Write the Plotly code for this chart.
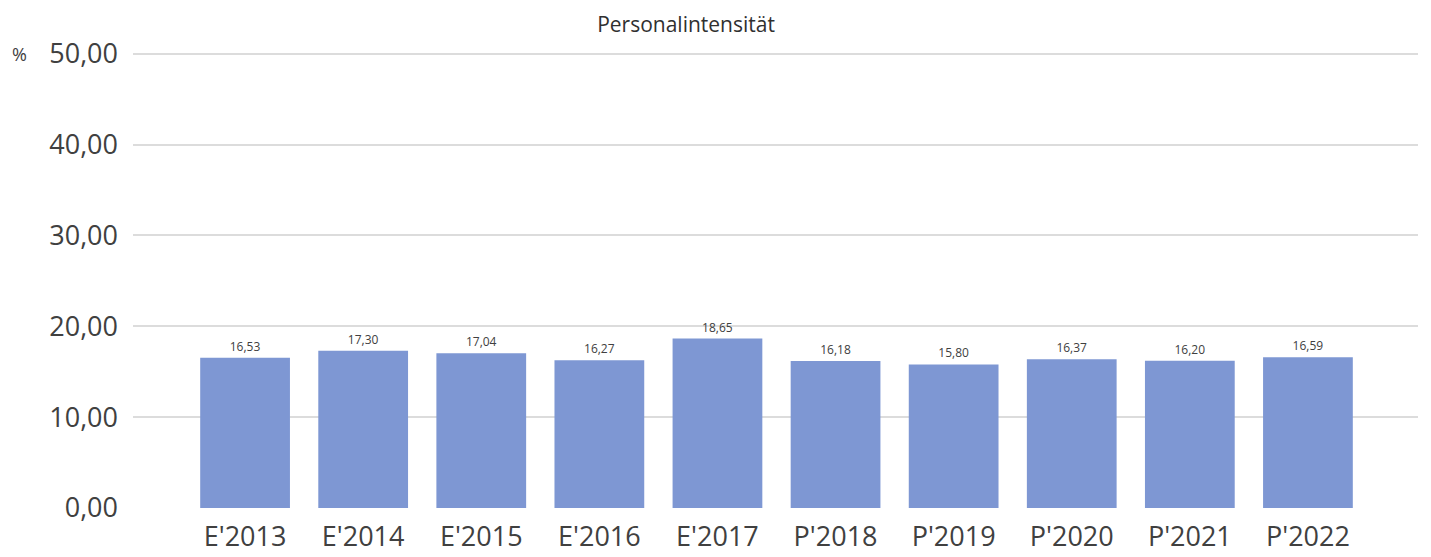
import plotly.graph_objects as go

categories = ["E'2013", "E'2014", "E'2015", "E'2016", "E'2017",
              "P'2018", "P'2019", "P'2020", "P'2021", "P'2022"]
values = [16.53, 17.30, 17.04, 16.27, 18.65, 16.18, 15.80, 16.37, 16.20, 16.59]
y_ticks = [0, 10, 20, 30, 40, 50]

fig = go.Figure()
fig.add_trace(go.Bar(
    x=list(range(len(categories))),
    y=values,
    marker=dict(color="#7e97d3", line=dict(width=0)),
    width=0.76,
    text=values,
    texttemplate="%{y:.2f}",
    textposition="outside",
    textfont=dict(size=12, color="#404040"),
    cliponaxis=False,
))

# page body has an 8px margin, so the figure is sized/offset to compensate
fig.update_layout(
    width=1423, height=549,
    margin=dict(l=125, r=13, t=44, b=49, autoexpand=False),
    paper_bgcolor="white", plot_bgcolor="white",
    separators=",.",
    font=dict(family="Open Sans", color="#404040"),
    showlegend=False,
    title=dict(text="Personalintensität", x=0.4765, xanchor="center",
               y=0.969, yanchor="middle",
               font=dict(size=21, color="#303030")),
    xaxis=dict(
        tickmode="array", tickvals=list(range(len(categories))), ticktext=categories,
        range=[-0.949, 9.932], showgrid=False, zeroline=False, showline=False,
        automargin=False,
        tickfont=dict(size=27, color="#404040"), ticks="", ticklabelstandoff=10,
    ),
    yaxis=dict(
        range=[0, 50.2], tickvals=y_ticks, tickformat=".2f",
        showgrid=True, gridcolor="#dcdcdc", gridwidth=1.5,
        zeroline=False, showline=False, automargin=False,
        tickfont=dict(size=27, color="#404040"), ticks="", ticklabelstandoff=14,
    ),
    annotations=[dict(text="%", xref="paper", yref="paper", x=-0.088, y=0.996,
                      xanchor="center", yanchor="middle", showarrow=False,
                      font=dict(size=18, color="#404040"))],
)

fig.write_html("out.html")
